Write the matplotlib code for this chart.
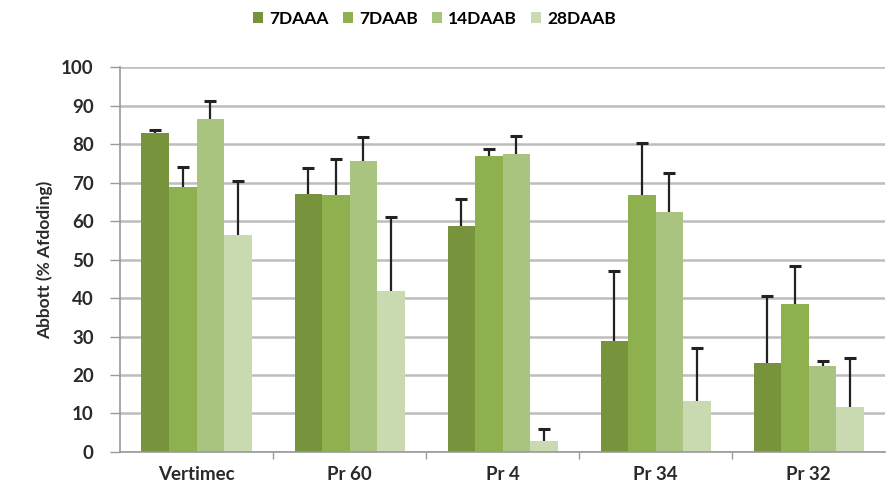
import matplotlib
matplotlib.use("Agg")
import matplotlib.pyplot as plt
import numpy as np

categories = ["Vertimec", "Pr 60", "Pr 4", "Pr 34", "Pr 32"]
series = ["7DAAA", "7DAAB", "14DAAB", "28DAAB"]
v_7daaa = [82.8, 67.0, 58.8, 28.8, 23.2]
v_7daab = [68.8, 66.8, 77.0, 66.9, 38.4]
v_14daab = [86.5, 75.6, 77.3, 62.3, 22.4]
v_28daab = [56.4, 41.8, 2.9, 13.3, 11.8]
e_7daaa = [0.8, 6.9, 7.0, 18.3, 17.3]
e_7daab = [5.3, 9.2, 1.6, 13.4, 9.9]
e_14daab = [4.7, 6.3, 4.8, 10.3, 1.2]
e_28daab = [14.1, 19.3, 3.0, 13.7, 12.7]
yticks = [0, 10, 20, 30, 40, 50, 60, 70, 80, 90, 100]

values = [v_7daaa, v_7daab, v_14daab, v_28daab]
errors = [e_7daaa, e_7daab, e_14daab, e_28daab]
colors = ["#77933C", "#8FB04E", "#A8C47E", "#C9DAB1"]

plt.rcParams['font.family'] = ['Lato', 'DejaVu Sans']
fig = plt.figure(figsize=(8.96, 4.9), dpi=100)
ax = fig.add_axes([0.134, 0.0776, 0.854, 0.7854])

x = np.arange(len(categories))
bw = 0.18
for i, (vals, errs, c, name) in enumerate(zip(values, errors, colors, series)):
    pos = x + (i - 1.5) * bw
    vals = np.array(vals)
    tops = vals + np.array(errs)
    ax.bar(pos, vals, bw, color=c, label=name, zorder=2)
    ax.vlines(pos, vals, tops, colors='#222222', linewidth=1.6, zorder=3)
    ax.plot(pos, tops, linestyle='none', marker='_', markersize=9,
            markeredgewidth=2.2, color='#222222', zorder=3)

ax.set_ylim(0, 100)
ax.set_xlim(-0.5, len(categories) - 0.5)
ax.set_yticks(yticks)
ax.set_yticklabels([str(t) for t in yticks], fontsize=13.5, fontweight='bold', color='#2a2a2a')
ax.set_xticks(x)
ax.set_xticklabels(categories, fontsize=13.5, fontweight='bold', color='#2a2a2a')
ax.tick_params(axis='x', length=0, pad=10)
ax.tick_params(axis='y', length=7, color='#999999', width=1, pad=12)
ax.set_xticks(np.arange(0.5, len(categories) - 0.5, 1), minor=True)
ax.tick_params(axis='x', which='minor', length=5, color='#999999', width=1)
ax.yaxis.grid(True, color='#BDBDBD', linewidth=1.8, zorder=0)
ax.set_axisbelow(True)
for s in ['top', 'right']:
    ax.spines[s].set_visible(False)
ax.spines['left'].set_color('#999999')
ax.spines['bottom'].set_color('#999999')
ax.spines['left'].set_linewidth(1.2)
ax.spines['bottom'].set_linewidth(1.2)
ax.set_ylabel("Abbott (% Afdoding)", fontsize=12.5, fontweight='bold', color='#2a2a2a', labelpad=6)

fig.legend(loc='upper center', bbox_to_anchor=(0.485, 1.01), ncol=4, frameon=False,
           prop={'size': 12.5, 'weight': 'bold'}, handlelength=0.6, handleheight=0.6,
           handletextpad=0.35, columnspacing=0.8)

fig.savefig("out.png", dpi=100)
